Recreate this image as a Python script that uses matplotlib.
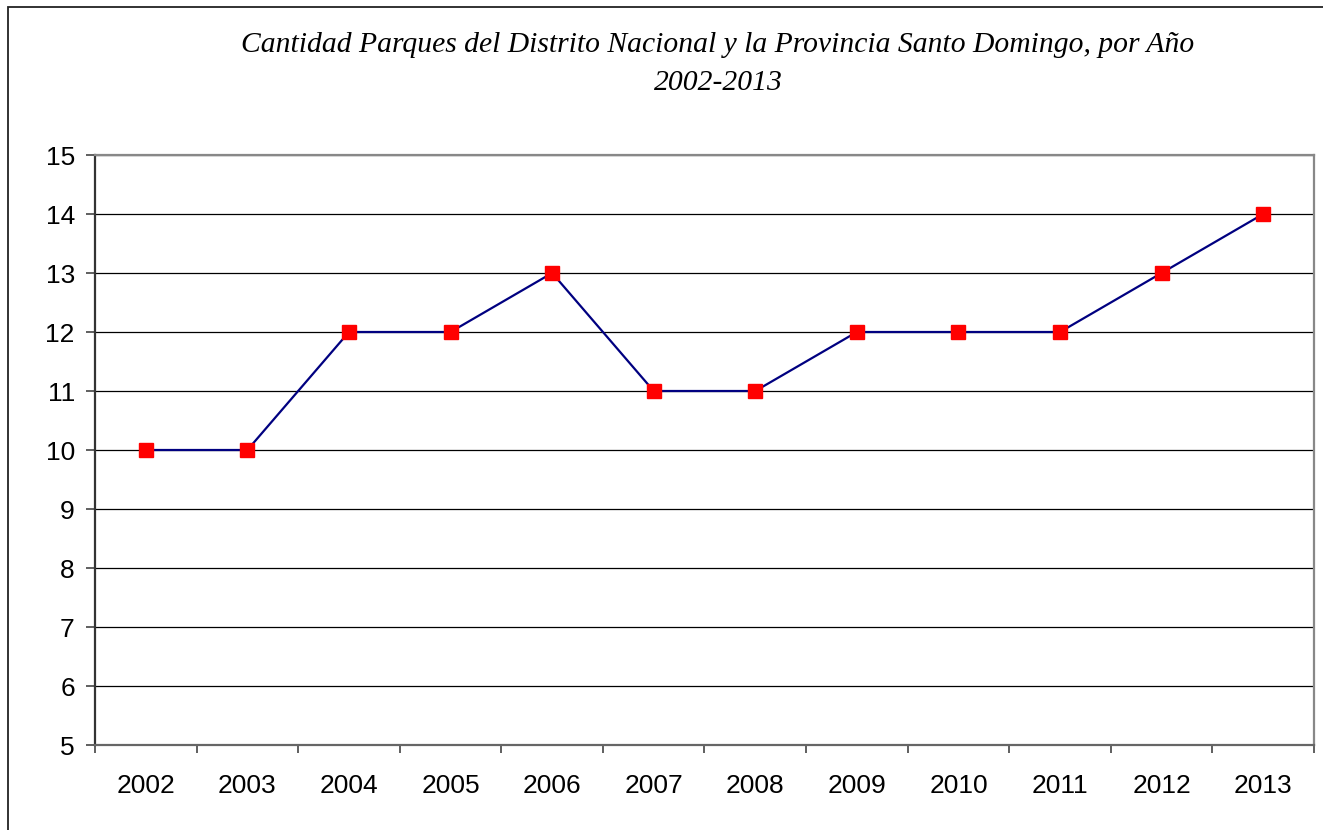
import matplotlib
matplotlib.use('Agg')
import matplotlib.pyplot as plt
from matplotlib.patches import Rectangle
import numpy as np

years = ['2002', '2003', '2004', '2005', '2006', '2007', '2008', '2009', '2010', '2011', '2012', '2013']
parques = [10, 10, 12, 12, 13, 11, 11, 12, 12, 12, 13, 14]

fig = plt.figure(figsize=(13.23, 8.3), dpi=100)
fig.patch.set_facecolor('white')

# marco exterior (se sale por derecha y abajo)
fig.patches.append(Rectangle((8 / 1323, -0.05), 1.2, (830 - 7) / 830 + 0.05,
                             transform=fig.transFigure, fill=False,
                             edgecolor='#222222', linewidth=1.3))

ax = fig.add_axes([95 / 1323, 85 / 830, (1314 - 95) / 1323, (745 - 155) / 830])

x = np.arange(len(years))
ax.plot(x, parques, color='#000080', linewidth=1.6, marker='s', markersize=10,
        markerfacecolor='#ff0000', markeredgecolor='#ff0000', zorder=3)

ax.set_xlim(-0.5, len(years) - 0.5)
ax.set_ylim(5, 15)
ax.set_yticks(range(5, 16))
ax.yaxis.grid(True, color='black', linewidth=0.9)
ax.set_axisbelow(True)

ax.set_xticks(x)
ax.set_xticklabels(years)
ax.set_xticks(np.arange(-0.5, len(years), 1), minor=True)
ax.tick_params(axis='x', which='major', length=0, pad=21)
ax.tick_params(axis='x', which='minor', length=6, width=1.2, color='#444444')
ax.tick_params(axis='y', length=6.5, width=1.2, color='#444444', pad=8)
for lab in ax.get_xticklabels() + ax.get_yticklabels():
    lab.set_fontfamily('Liberation Sans')
    lab.set_fontsize(19)

ax.spines['left'].set_color('#333333')
ax.spines['bottom'].set_color('#666666')
ax.spines['top'].set_color('#888888')
ax.spines['right'].set_color('#888888')
for s in ax.spines.values():
    s.set_linewidth(1.6)

fig.text(718 / 1323, 1 - 45 / 830, 'Cantidad Parques del Distrito Nacional y la Provincia Santo Domingo, por Año',
         ha='center', va='center', fontsize=21.3, fontstyle='italic', fontfamily='Liberation Serif')
fig.text(718 / 1323, 1 - 83 / 830, '2002-2013',
         ha='center', va='center', fontsize=21.3, fontstyle='italic', fontfamily='Liberation Serif')

fig.savefig('out.png', dpi=100)
